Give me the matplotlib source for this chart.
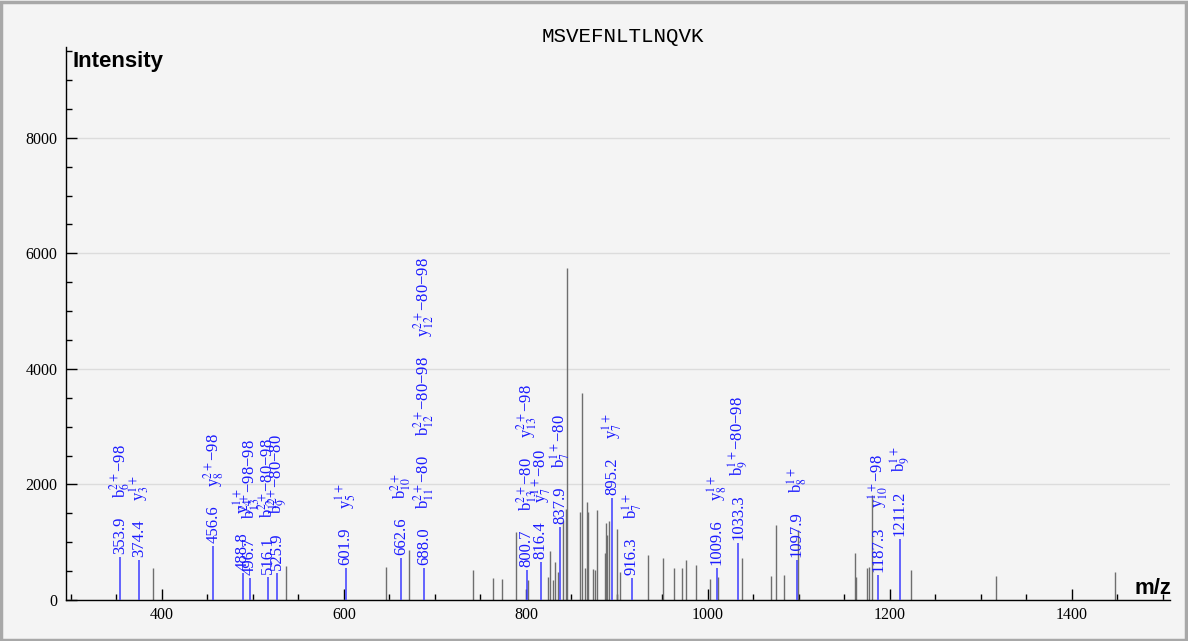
import matplotlib
matplotlib.use('Agg')
import matplotlib.pyplot as plt
from matplotlib.ticker import MultipleLocator
from matplotlib.patches import Rectangle

plt.rcParams['mathtext.fontset'] = 'stix'

# annotated (matched) peaks
match_mz = [353.9, 374.4, 456.6, 488.8, 496.7, 516.1, 525.9, 601.9, 662.6, 688.0,
            800.7, 816.4, 837.9, 895.2, 916.3, 1009.6, 1033.3, 1097.9, 1187.3, 1211.2]
match_int = [745, 690, 935, 470, 380, 400, 470, 555, 730, 555,
             520, 660, 1265, 1765, 380, 555, 985, 690, 430, 1055]
match_ions = [
    ['b$_{6}^{2+}$−98'],
    ['y$_{3}^{1+}$'],
    ['y$_{8}^{2+}$−98'],
    ['y$_{4}^{1+}$'],
    ['b$_{13}^{2+}$−98−98'],
    ['b$_{12}^{2+}$−80−98'],
    ['b$_{9}^{2+}$−80−80'],
    ['y$_{5}^{1+}$'],
    ['b$_{10}^{2+}$'],
    ['b$_{11}^{2+}$−80', 'b$_{12}^{2+}$−80−98', 'y$_{12}^{2+}$−80−98'],
    ['b$_{13}^{2+}$−80', 'y$_{13}^{2+}$−98'],
    ['y$_{7}^{1+}$−80'],
    ['b$_{7}^{1+}$−80'],
    ['y$_{7}^{1+}$'],
    ['b$_{7}^{1+}$'],
    ['y$_{8}^{1+}$'],
    ['b$_{9}^{1+}$−80−98'],
    ['b$_{8}^{1+}$'],
    ['y$_{10}^{1+}$−98'],
    ['b$_{9}^{1+}$'],
]

# unmatched peaks
other_mz = [390.1, 536.3, 646.2, 671.4, 741.8, 763.7, 773.6, 789.0, 802.2, 824.2,
            826.4, 829.7, 831.9, 835.2, 840.7, 844.2, 845.5, 859.3, 861.5, 864.8,
            867.0, 868.1, 873.6, 875.8, 878.0, 886.8, 887.9, 889.0, 891.2, 900.0,
            903.3, 934.0, 950.5, 962.6, 971.4, 975.8, 986.8, 1002.2, 1010.9, 1037.4,
            1069.2, 1074.7, 1083.5, 1098.9, 1161.5, 1162.6, 1174.7, 1176.9, 1180.2, 1223.1,
            1316.5, 1447.3]
other_int = [555, 590, 570, 865, 520, 380, 365, 1180, 350, 400,
             850, 350, 660, 485, 1385, 1575, 5750, 1525, 3585, 555,
             1700, 1525, 535, 520, 1560, 810, 1330, 1125, 1370, 1230,
             485, 780, 730, 555, 555, 690, 605, 365, 400, 730,
             415, 1300, 430, 1210, 810, 400, 555, 570, 1820, 520,
             415, 485]

bg = '#f4f4f4'
blue_line = '#4a4aff'
blue_text = '#1a1aff'

fig = plt.figure(figsize=(11.88, 6.41), dpi=100, facecolor=bg)
ax = fig.add_axes([66/1188, 41/641, (1170-66)/1188, (600-47)/641])
ax.set_facecolor(bg)

ax.vlines(other_mz, 0, other_int, colors='#6e6e6e', lw=1.0, zorder=2)
ax.vlines(match_mz, 0, match_int, colors=blue_line, lw=1.2, zorder=3)

ax.set_xlim(294.5, 1508)
ax.set_ylim(0, 9570)
ax.xaxis.set_major_locator(MultipleLocator(200))
ax.xaxis.set_minor_locator(MultipleLocator(50))
ax.yaxis.set_major_locator(MultipleLocator(2000))
ax.yaxis.set_minor_locator(MultipleLocator(500))
ax.tick_params(which='both', direction='in', colors='black', labelsize=11.5,
               labelfontfamily='Liberation Serif')
ax.tick_params(which='major', length=8, width=1)
ax.tick_params(which='minor', length=4.5, width=1)
ax.tick_params(axis='x', pad=5)
ax.tick_params(axis='y', pad=6)
ax.grid(axis='y', which='major', color='#dcdcdc', lw=1, zorder=0)
ax.set_axisbelow(True)
for s in ['top', 'right']:
    ax.spines[s].set_visible(False)
for s in ['left', 'bottom']:
    ax.spines[s].set_color('black')
    ax.spines[s].set_linewidth(1)

fig.canvas.draw()
r = fig.canvas.get_renderer()
pt = 72.0 / fig.dpi
gap = 13.5
for mz, inten, ions in zip(match_mz, match_int, match_ions):
    t = ax.annotate(f'{mz:.1f}', xy=(mz, inten), xytext=(0, 2), textcoords='offset points',
                    rotation=90, ha='center', va='bottom', color=blue_text,
                    fontsize=12, family='Liberation Serif', zorder=4)
    off = 2 + t.get_window_extent(r).height * pt + gap
    for ion in ions:
        t2 = ax.annotate(ion, xy=(mz, inten), xytext=(0, off), textcoords='offset points',
                         rotation=90, ha='center', va='bottom', color=blue_text,
                         fontsize=12, family='Liberation Serif', zorder=4)
        off += t2.get_window_extent(r).height * pt + gap

fig.text(623/1188, 1 - 36/641, 'MSVEFNLTLNQVK', ha='center', va='center',
         family='Liberation Mono', fontsize=15)
fig.text(72/1188, 1 - 61/641, 'Intensity', ha='left', va='center',
         family='Liberation Sans', fontweight='bold', fontsize=16)
fig.text(1171/1188, 1 - 589/641, 'm/z', ha='right', va='center',
         family='Liberation Sans', fontweight='bold', fontsize=16)

fig.patches.append(Rectangle((0.001, 0.002), 0.997, 0.995, transform=fig.transFigure,
                             fill=False, edgecolor='#a8a8a8', lw=2.5))

fig.savefig('out.png', dpi=100, facecolor=bg)
